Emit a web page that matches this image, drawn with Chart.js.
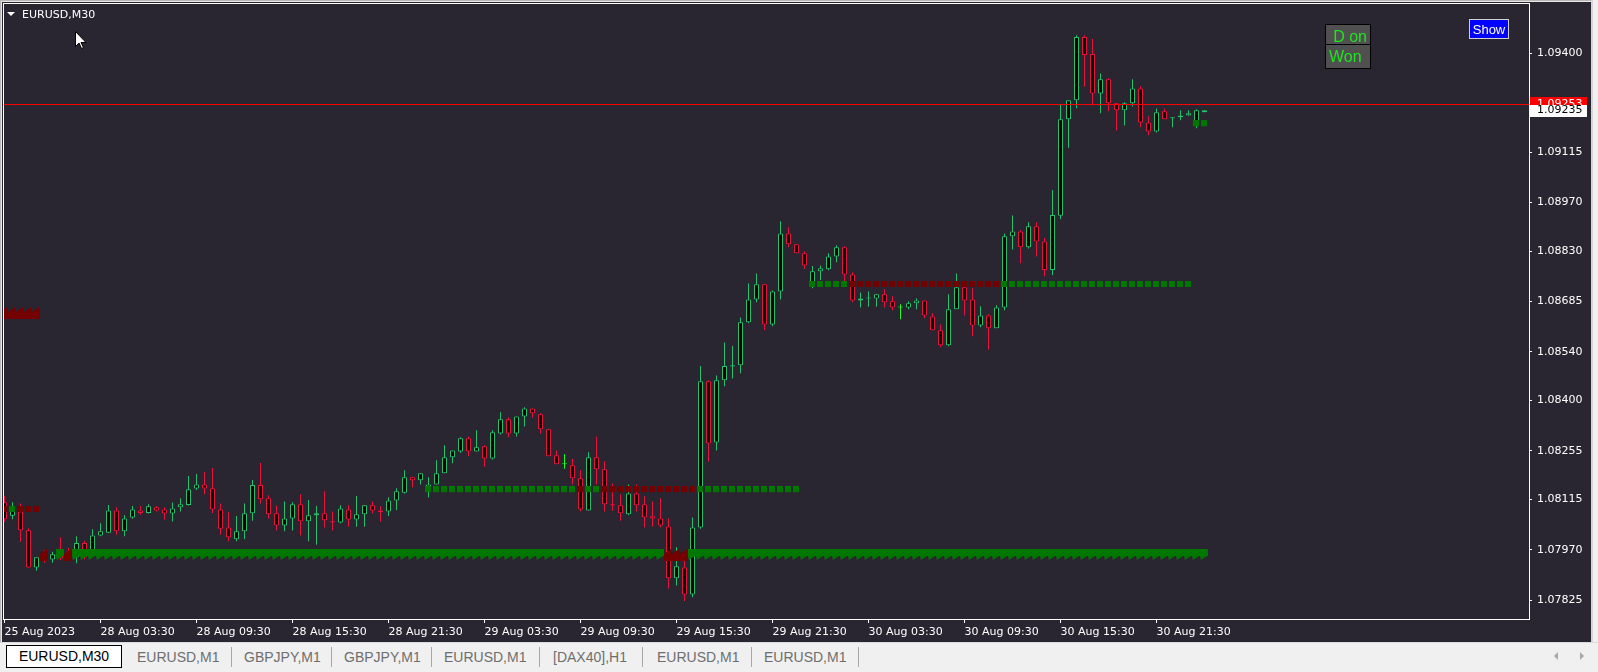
<!DOCTYPE html>
<html>
<head>
<meta charset="utf-8">
<title>EURUSD,M30</title>
<script src="https://cdn.jsdelivr.net/npm/chart.js@4.4.1/dist/chart.umd.min.js"></script>
<style>
  html, body { margin: 0; padding: 0; background: #f0f0f0; overflow: hidden; }
  #wrap { position: relative; width: 1598px; height: 672px; }
  #chart { position: absolute; left: 0; top: 0; }
  #tabs { position: absolute; left: 0; top: 642px; width: 1598px; height: 29px; background: #f0f0f0;
          border-top: 1px solid #dadada; font-family: "Liberation Sans", sans-serif; font-size: 14px; color: #6e6e6e; }
  #tabs .t { position: absolute; top: 6px; line-height: 16px; white-space: nowrap; }
  #tabs .sep { position: absolute; top: 4px; width: 1px; height: 20px; background: #a8a8a8; }
  #tabs .active { position: absolute; left: 6px; top: 2px; width: 114px; height: 21px; background: #fff;
                  border: 1px solid #000; color: #000; text-align: center; line-height: 21px; }
  #tabs .arr { position: absolute; top: 9px; width: 0; height: 0; border-top: 4px solid transparent; border-bottom: 4px solid transparent; }
</style>
</head>
<body>
<div id="wrap">
  <canvas id="chart" width="1598" height="642"></canvas>
  <div id="tabs">
    <div class="active">EURUSD,M30</div>
    <span class="t" style="left:137px">EURUSD,M1</span><span class="sep" style="left:231px"></span>
    <span class="t" style="left:244px">GBPJPY,M1</span><span class="sep" style="left:331px"></span>
    <span class="t" style="left:344px">GBPJPY,M1</span><span class="sep" style="left:431px"></span>
    <span class="t" style="left:444px">EURUSD,M1</span><span class="sep" style="left:539px"></span>
    <span class="t" style="left:553px">[DAX40],H1</span><span class="sep" style="left:642px"></span>
    <span class="t" style="left:657px">EURUSD,M1</span><span class="sep" style="left:751px"></span>
    <span class="t" style="left:764px">EURUSD,M1</span><span class="sep" style="left:858px"></span>
    <span class="arr" style="left:1554px;border-right:4px solid #a8a8a8"></span>
    <span class="arr" style="left:1580px;border-left:4px solid #a8a8a8"></span>
  </div>
</div>
<script>
// EURUSD M30 candles, bar 0 = 25 Aug 21:30
const opens = [
  1.08107, 1.08068, 1.08080, 1.08026, 1.07919, 1.07948, 1.07942, 1.07969, 1.07965, 1.07948,
  1.07989, 1.07969, 1.08011, 1.08019, 1.08083, 1.08023, 1.08063, 1.08083, 1.08076, 1.08092,
  1.08086, 1.08074, 1.08092, 1.08099, 1.08146, 1.08158, 1.08147, 1.08086, 1.08034, 1.08000,
  1.08023, 1.08075, 1.08156, 1.08118, 1.08075, 1.08040, 1.08060, 1.08101, 1.08052, 1.08069,
  1.08075, 1.08052, 1.08048, 1.08086, 1.08057, 1.08072, 1.08098, 1.08083, 1.08080, 1.08112,
  1.08134, 1.08179, 1.08170, 1.08147, 1.08158, 1.08190, 1.08236, 1.08253, 1.08291, 1.08253,
  1.08268, 1.08233, 1.08305, 1.08346, 1.08305, 1.08354, 1.08377, 1.08360, 1.08317, 1.08242,
  1.08216, 1.08213, 1.08176, 1.08083, 1.08236, 1.08202, 1.08101, 1.08098, 1.08072, 1.08132,
  1.08101, 1.08066, 1.08060, 1.08037, 1.07888, 1.07919, 1.07841, 1.08034, 1.08455, 1.08279,
  1.08458, 1.08498, 1.08501, 1.08625, 1.08691, 1.08735, 1.08619, 1.08714, 1.08881, 1.08850,
  1.08824, 1.08735, 1.08772, 1.08778, 1.08815, 1.08841, 1.08763, 1.08688, 1.08694, 1.08694,
  1.08706, 1.08686, 1.08668, 1.08668, 1.08680, 1.08688, 1.08642, 1.08602, 1.08559, 1.08663,
  1.08726, 1.08691, 1.08616, 1.08645, 1.08608, 1.08668, 1.08873, 1.08887, 1.08841, 1.08902,
  1.08858, 1.08776, 1.08932, 1.09210, 1.09265, 1.09447, 1.09398, 1.09284, 1.09325, 1.09256,
  1.09236, 1.09256, 1.09299, 1.09201, 1.09175, 1.09233, 1.09213, 1.09216, 1.09221, 1.09201,
  1.09230
];
const highs = [
  1.08125, 1.08107, 1.08103, 1.08032, 1.07948, 1.07969, 1.07964, 1.08006, 1.07975, 1.08009,
  1.07996, 1.08029, 1.08046, 1.08099, 1.08092, 1.08069, 1.08096, 1.08096, 1.08101, 1.08096,
  1.08092, 1.08106, 1.08118, 1.08182, 1.08188, 1.08194, 1.08205, 1.08103, 1.08078, 1.08067,
  1.08103, 1.08171, 1.08220, 1.08127, 1.08097, 1.08109, 1.08107, 1.08130, 1.08113, 1.08096,
  1.08138, 1.08080, 1.08098, 1.08098, 1.08125, 1.08099, 1.08109, 1.08096, 1.08121, 1.08147,
  1.08199, 1.08180, 1.08190, 1.08179, 1.08228, 1.08271, 1.08256, 1.08294, 1.08296, 1.08314,
  1.08271, 1.08314, 1.08366, 1.08351, 1.08354, 1.08380, 1.08377, 1.08363, 1.08317, 1.08256,
  1.08245, 1.08231, 1.08199, 1.08251, 1.08295, 1.08225, 1.08161, 1.08129, 1.08158, 1.08158,
  1.08124, 1.08109, 1.08118, 1.08060, 1.07977, 1.07945, 1.08063, 1.08499, 1.08458, 1.08472,
  1.08567, 1.08557, 1.08639, 1.08737, 1.08766, 1.08735, 1.08717, 1.08916, 1.08899, 1.08850,
  1.08830, 1.08787, 1.08789, 1.08824, 1.08847, 1.08844, 1.08769, 1.08711, 1.08714, 1.08706,
  1.08720, 1.08700, 1.08677, 1.08686, 1.08694, 1.08688, 1.08651, 1.08619, 1.08706, 1.08766,
  1.08735, 1.08723, 1.08671, 1.08648, 1.08674, 1.08881, 1.08933, 1.08890, 1.08913, 1.08913,
  1.08868, 1.09006, 1.09253, 1.09265, 1.09452, 1.09452, 1.09441, 1.09342, 1.09328, 1.09256,
  1.09259, 1.09325, 1.09305, 1.09219, 1.09241, 1.09241, 1.09216, 1.09236, 1.09236, 1.09239,
  1.09236
];
const lows = [
  1.08051, 1.08058, 1.07993, 1.07918, 1.07909, 1.07932, 1.07932, 1.07940, 1.07940, 1.07931,
  1.07942, 1.07963, 1.08009, 1.08018, 1.08013, 1.08009, 1.08059, 1.08071, 1.08074, 1.08080,
  1.08056, 1.08051, 1.08080, 1.08097, 1.08142, 1.08130, 1.08076, 1.08013, 1.07994, 1.07994,
  1.08001, 1.08053, 1.08103, 1.08060, 1.08025, 1.08023, 1.08025, 1.08011, 1.07994, 1.07984,
  1.08034, 1.08025, 1.08046, 1.08036, 1.08036, 1.08036, 1.08075, 1.08051, 1.08067, 1.08084,
  1.08132, 1.08150, 1.08158, 1.08120, 1.08158, 1.08190, 1.08219, 1.08249, 1.08240, 1.08253,
  1.08209, 1.08230, 1.08302, 1.08294, 1.08296, 1.08325, 1.08351, 1.08305, 1.08239, 1.08216,
  1.08203, 1.08158, 1.08080, 1.08083, 1.08158, 1.08080, 1.08082, 1.08053, 1.08069, 1.08080,
  1.08034, 1.08036, 1.08034, 1.07858, 1.07867, 1.07822, 1.07833, 1.08030, 1.08224, 1.08256,
  1.08441, 1.08463, 1.08478, 1.08622, 1.08683, 1.08602, 1.08614, 1.08691, 1.08841, 1.08824,
  1.08779, 1.08723, 1.08747, 1.08775, 1.08798, 1.08743, 1.08683, 1.08668, 1.08670, 1.08670,
  1.08668, 1.08660, 1.08634, 1.08663, 1.08663, 1.08637, 1.08602, 1.08553, 1.08556, 1.08663,
  1.08645, 1.08585, 1.08611, 1.08547, 1.08608, 1.08660, 1.08835, 1.08795, 1.08838, 1.08815,
  1.08758, 1.08761, 1.08923, 1.09128, 1.09242, 1.09304, 1.09250, 1.09227, 1.09233, 1.09178,
  1.09192, 1.09247, 1.09187, 1.09164, 1.09172, 1.09210, 1.09187, 1.09207, 1.09221, 1.09184,
  1.09230
];
const closes = [
  1.08058, 1.08082, 1.08026, 1.07919, 1.07948, 1.07937, 1.07957, 1.07945, 1.07946, 1.07989,
  1.07948, 1.08011, 1.08023, 1.08083, 1.08023, 1.08060, 1.08086, 1.08076, 1.08095, 1.08083,
  1.08074, 1.08089, 1.08101, 1.08144, 1.08158, 1.08146, 1.08086, 1.08030, 1.08006, 1.08023,
  1.08075, 1.08156, 1.08115, 1.08072, 1.08040, 1.08060, 1.08101, 1.08052, 1.08069, 1.08075,
  1.08055, 1.08048, 1.08089, 1.08057, 1.08072, 1.08098, 1.08083, 1.08078, 1.08112, 1.08138,
  1.08179, 1.08170, 1.08190, 1.08158, 1.08190, 1.08236, 1.08256, 1.08291, 1.08253, 1.08265,
  1.08233, 1.08308, 1.08346, 1.08305, 1.08354, 1.08377, 1.08363, 1.08317, 1.08239, 1.08216,
  1.08216, 1.08176, 1.08086, 1.08236, 1.08202, 1.08101, 1.08097, 1.08075, 1.08132, 1.08098,
  1.08063, 1.08060, 1.08040, 1.07888, 1.07922, 1.07841, 1.08034, 1.08455, 1.08276, 1.08458,
  1.08499, 1.08501, 1.08625, 1.08691, 1.08735, 1.08619, 1.08714, 1.08881, 1.08850, 1.08824,
  1.08789, 1.08772, 1.08781, 1.08815, 1.08841, 1.08763, 1.08688, 1.08694, 1.08695, 1.08706,
  1.08683, 1.08668, 1.08668, 1.08680, 1.08688, 1.08645, 1.08602, 1.08559, 1.08663, 1.08726,
  1.08688, 1.08616, 1.08645, 1.08608, 1.08668, 1.08873, 1.08887, 1.08841, 1.08902, 1.08858,
  1.08776, 1.08934, 1.09210, 1.09265, 1.09447, 1.09395, 1.09284, 1.09325, 1.09256, 1.09236,
  1.09256, 1.09299, 1.09201, 1.09175, 1.09230, 1.09210, 1.09214, 1.09221, 1.09227, 1.09236,
  1.09236
];

// time axis: bar index of each label and its text
const tickBars = [0, 12, 24, 36, 48, 60, 72, 84, 96, 108, 120, 132, 144];
const tickLabels = ["25 Aug 2023", "28 Aug 03:30", "28 Aug 09:30", "28 Aug 15:30", "28 Aug 21:30",
  "29 Aug 03:30", "29 Aug 09:30", "29 Aug 15:30", "29 Aug 21:30", "30 Aug 03:30",
  "30 Aug 09:30", "30 Aug 15:30", "30 Aug 21:30"];
const priceTicks = [1.07825, 1.07970, 1.08115, 1.08255, 1.08400, 1.08540, 1.08685, 1.08830, 1.08970, 1.09115, 1.09400];

// horizontal line and last bid
const lineLevel = 1.09253;
const bidLevel = 1.09235;

// indicator marks: first bar, price level, side per bar (1 up/green, -1 down/red, 0 none)
const zoneTopStart = 0, zoneTopLevel = 1.08652;
const zoneTopSide = [-1, -1, -1, -1, -1];
const zoneLowStart = 5, zoneLowLevel = 1.07955;
const zoneLowSide = [
  -1, 0, 1, -1,
  1, 1, 1, 1, 1, 1, 1, 1, 1, 1, 1, 1, 1, 1, 1, 1, 1, 1, 1, 1,
  1, 1, 1, 1, 1, 1, 1, 1, 1, 1, 1, 1, 1, 1, 1, 1, 1, 1, 1, 1,
  1, 1, 1, 1, 1, 1, 1, 1, 1, 1, 1, 1, 1, 1, 1, 1, 1, 1, 1, 1,
  1, 1, 1, 1, 1, 1, 1, 1, 1, 1, 1, 1, 1, 1,
  -1, -1, -1,
  1, 1, 1, 1, 1, 1, 1, 1, 1, 1, 1, 1, 1, 1, 1, 1, 1, 1, 1, 1,
  1, 1, 1, 1, 1, 1, 1, 1, 1, 1, 1, 1, 1, 1, 1, 1, 1, 1, 1, 1,
  1, 1, 1, 1, 1, 1, 1, 1, 1, 1, 1, 1, 1, 1, 1, 1, 1, 1, 1, 1,
  1, 1, 1, 1, 1
];
const dotsAStart = 0, dotsALevel = 1.08086;
const dotsASide = [-1, 1, -1, -1, -1];
const dotsBStart = 53, dotsBLevel = 1.08143;
const dotsBSide = [
  1, 1, 1, 1, 1, 1, 1, 1, 1, 1, 1, 1, 1, 1, 1, 1, 1, 1, 1,
  -1, 1, 1,
  -1, -1, -1, -1, -1, -1, -1, -1, -1, -1, -1, -1,
  1, 1, 1, 1, 1, 1, 1, 1, 1, 1, 1, 1, 1
];
const dotsCStart = 101, dotsCLevel = 1.08734;
const dotsCSide = [
  1, 1, 1, 1, 1,
  -1, -1, -1, -1, -1, -1, -1, -1, -1, -1, -1, -1, -1, -1, -1, -1, -1, -1, -1,
  1, 1, 1, 1, 1, 1, 1, 1, 1, 1, 1, 1, 1, 1, 1, 1, 1, 1, 1, 1, 1, 1, 1, 1
];
const dotsDStart = 149, dotsDLevel = 1.09197;
const dotsDSide = [1, 1];

const symbolTitle = "EURUSD,M30";

const BG = '#2a2631';
const UP = '#27c06d';
const DN = '#e8123c';
const DOJI = '#1cff1c';
const MARK_UP = '#007800';
const MARK_DN = '#740000';

function glyph(w, h, paint) {
  const c = document.createElement('canvas');
  c.width = w;
  c.height = h;
  paint(c.getContext('2d'));
  return c;
}
const dotUp = glyph(7, 7, g => { g.fillStyle = MARK_UP; g.fillRect(0, 0, 6, 6); });
const dotDn = glyph(7, 7, g => { g.fillStyle = MARK_DN; g.fillRect(0, 0, 6, 6); });
const zoneUp = glyph(9, 12, g => {
  g.fillStyle = MARK_UP;
  g.fillRect(0, 0, 8, 7);
  g.beginPath(); g.moveTo(0, 7); g.lineTo(7, 7); g.lineTo(1, 11); g.closePath(); g.fill();
});
const zoneDn = glyph(9, 12, g => {
  g.fillStyle = MARK_DN;
  g.fillRect(0, 5, 8, 7);
  g.beginPath(); g.moveTo(0, 5); g.lineTo(8, 5); g.lineTo(7, 0); g.closePath(); g.fill();
});

function markSet(start, level, sides, upImg, dnImg) {
  const pts = [], styles = [];
  sides.forEach((s, i) => {
    if (!s) return;
    pts.push({ x: start + i, y: level });
    styles.push(s > 0 ? upImg : dnImg);
  });
  return {
    type: 'line', data: pts, showLine: false,
    pointStyle: styles, pointRadius: 3, pointHoverRadius: 3, borderWidth: 0
  };
}

const candleColors = closes.map((c, i) => c > opens[i] ? UP : (c < opens[i] ? DN : DOJI));

const chrome = {
  id: 'mtChrome',
  beforeDraw(chart) {
    const g = chart.ctx;
    g.save();
    g.fillStyle = BG;
    g.fillRect(0, 0, chart.width, chart.height);
    g.restore();
  },
  afterDatasetsDraw(chart) {
    const g = chart.ctx, a = chart.chartArea;
    const y = Math.floor(chart.scales.y.getPixelForValue(lineLevel));
    g.save();
    g.fillStyle = '#ff0000';
    g.fillRect(a.left, y, a.right - a.left, 1);
    g.restore();
  },
  afterDraw(chart) {
    const g = chart.ctx, a = chart.chartArea, ys = chart.scales.y;
    g.save();
    // window edges
    g.fillStyle = '#b8b8b8';
    g.fillRect(0, 0, chart.width, 1);
    g.fillRect(0, 0, 1, chart.height);
    g.fillStyle = '#e6e6e6';
    g.fillRect(1, 1, chart.width, 1);
    g.fillRect(1, 1, 1, chart.height);
    g.fillStyle = '#d6d6d6';
    g.fillRect(1591, 0, 2, chart.height);
    g.fillStyle = '#f0f0f0';
    g.fillRect(1593, 0, 5, chart.height);

    // plot frame
    g.strokeStyle = '#ffffff';
    g.lineWidth = 1;
    g.strokeRect(a.left - 0.5, a.top - 0.5, a.right - a.left + 1, a.bottom - a.top + 1);

    // price labels on the axis
    const yl = ys.getPixelForValue(lineLevel), yb = ys.getPixelForValue(bidLevel);
    g.font = '11px "DejaVu Sans"';
    g.textAlign = 'left';
    g.textBaseline = 'middle';
    g.fillStyle = '#ff0000';
    g.fillRect(1530, Math.round(yl) - 7, 57, 14);
    g.fillStyle = '#ffffff';
    g.fillText(lineLevel.toFixed(5), 1537, yl);
    g.fillRect(1530, Math.round(yb) - 6, 57, 12);
    g.fillStyle = '#000000';
    g.fillText(bidLevel.toFixed(5), 1537, yb);

    // symbol header
    g.fillStyle = '#ffffff';
    g.beginPath(); g.moveTo(7, 12); g.lineTo(15, 12); g.lineTo(11, 16); g.closePath(); g.fill();
    g.textBaseline = 'alphabetic';
    g.fillText(symbolTitle, 22, 17.5);

    // panel "D on / Won"
    g.fillStyle = '#505050';
    g.fillRect(1325, 24, 46, 45);
    g.strokeStyle = '#000000';
    g.strokeRect(1325.5, 24.5, 45, 20);
    g.strokeRect(1325.5, 44.5, 45, 24);
    g.fillStyle = '#1ee61e';
    g.font = '16px "Liberation Sans"';
    g.textAlign = 'right';
    g.fillText('D on', 1367, 42.3);
    g.textAlign = 'left';
    g.fillText('Won', 1329, 61.7);

    // Show button
    g.fillStyle = '#0000ff';
    g.fillRect(1469, 19, 40, 20);
    g.strokeStyle = '#d0d0d0';
    g.strokeRect(1469.5, 19.5, 39, 19);
    g.fillStyle = '#ffffff';
    g.font = '13px "Liberation Sans"';
    g.textAlign = 'center';
    g.fillText('Show', 1489, 34);

    // mouse pointer
    g.beginPath();
    g.moveTo(75.5, 31.5); g.lineTo(75.5, 46.5); g.lineTo(79, 43); g.lineTo(81.5, 48.5);
    g.lineTo(83.5, 47.5); g.lineTo(81, 42.5); g.lineTo(86, 42.5); g.closePath();
    g.fillStyle = '#ffffff'; g.fill();
    g.strokeStyle = '#000000'; g.stroke();
    g.restore();
  }
};

Chart.defaults.font.family = '"DejaVu Sans", sans-serif';
Chart.defaults.font.size = 11;
Chart.defaults.color = '#ffffff';

new Chart(document.getElementById('chart'), {
  type: 'bar',
  data: {
    datasets: [
      markSet(zoneTopStart, zoneTopLevel, zoneTopSide, zoneUp, zoneDn),
      markSet(zoneLowStart, zoneLowLevel, zoneLowSide, zoneUp, zoneDn),
      markSet(dotsAStart, dotsALevel, dotsASide, dotUp, dotDn),
      markSet(dotsBStart, dotsBLevel, dotsBSide, dotUp, dotDn),
      markSet(dotsCStart, dotsCLevel, dotsCSide, dotUp, dotDn),
      markSet(dotsDStart, dotsDLevel, dotsDSide, dotUp, dotDn),
      {
        // candle bodies
        data: opens.map((o, i) => ({ x: i, y: [o, closes[i]] })),
        backgroundColor: '#000000',
        borderColor: candleColors,
        borderWidth: 1,
        borderSkipped: false,
        inflateAmount: 0,
        grouped: false,
        categoryPercentage: 1,
        barPercentage: 1,
        maxBarThickness: 5,
        minBarLength: 1
      },
      {
        // wicks
        data: lows.map((l, i) => ({ x: i, y: [l, highs[i]] })),
        backgroundColor: candleColors,
        borderWidth: 0,
        inflateAmount: 0,
        grouped: false,
        categoryPercentage: 1,
        barPercentage: 1,
        maxBarThickness: 1,
        minBarLength: 1
      }
    ]
  },
  options: {
    responsive: false,
    animation: false,
    devicePixelRatio: 1,
    events: [],
    layout: { padding: { left: 4, top: 4, right: 0, bottom: 0 } },
    plugins: { legend: { display: false }, tooltip: { enabled: false } },
    scales: {
      x: {
        type: 'linear',
        min: -0.0625,
        max: 190.5625,
        offset: false,
        bounds: 'data',
        grid: { display: true, offset: false, drawOnChartArea: false, drawTicks: true, tickLength: 4, color: '#ffffff' },
        border: { display: false },
        ticks: { autoSkip: false, maxRotation: 0, align: 'start', padding: 3, color: '#ffffff',
                 callback: (v, i) => tickLabels[i] },
        afterBuildTicks: axis => { axis.ticks = tickBars.map(v => ({ value: v })); },
        afterFit: axis => {
          axis.height = 23;
          axis.paddingLeft = 0;
          axis.paddingRight = 0;
        }
      },
      y: {
        type: 'linear',
        position: 'right',
        min: 1.077703,
        max: 1.095421,
        beginAtZero: false,
        bounds: 'data',
        grid: { display: true, drawOnChartArea: false, drawTicks: true, tickLength: 3, color: '#ffffff' },
        border: { display: false },
        ticks: { padding: 5, color: '#ffffff', callback: v => v.toFixed(5) },
        afterBuildTicks: axis => { axis.ticks = priceTicks.map(v => ({ value: v })); },
        afterFit: axis => {
          axis.width = 69;
          axis.paddingTop = 0;
          axis.paddingBottom = 0;
        }
      }
    }
  },
  plugins: [chrome]
});
</script>
</body>
</html>
